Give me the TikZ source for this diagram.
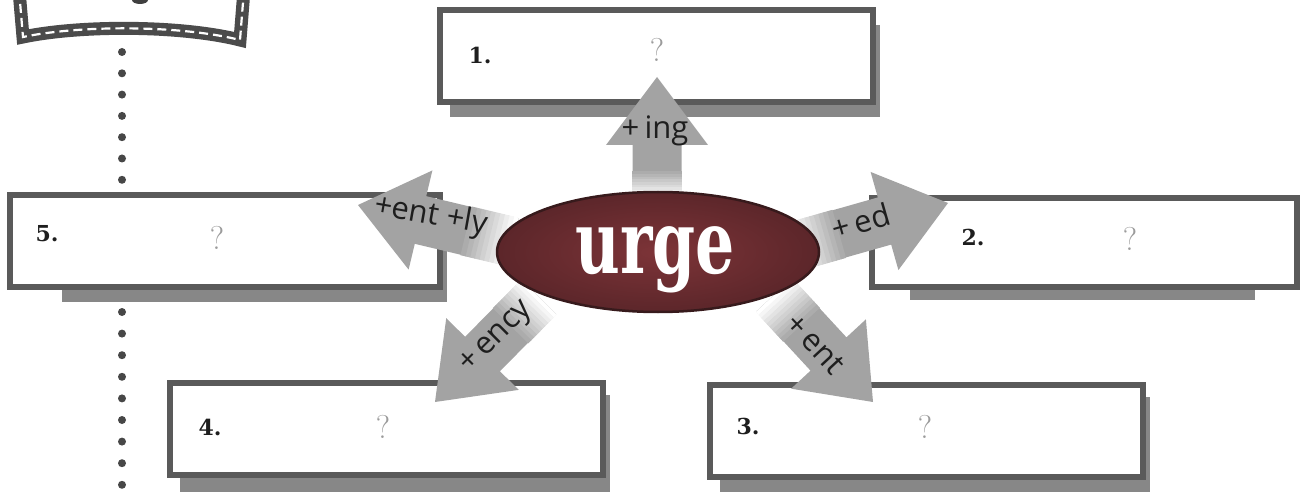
\documentclass[tikz,border=0pt]{standalone}
\usepackage{fontspec}
\newfontfamily\lblfont{Open Sans}
\newfontfamily\numfont{DejaVu Serif}
\usetikzlibrary{calc,shapes.geometric}
\definecolor{arrowgray}{RGB}{163,163,163}
\definecolor{framegray}{RGB}{90,90,90}
\definecolor{shadowgray}{RGB}{135,135,135}
\definecolor{ovalfill}{RGB}{125,52,56}
\definecolor{ovalouter}{RGB}{92,38,42}
\definecolor{ovaledge}{RGB}{55,26,28}
\definecolor{qgray}{RGB}{155,155,155}
\definecolor{inkgray}{RGB}{30,30,30}
\definecolor{badgegray}{RGB}{75,75,75}
\tikzset{
  boxframe/.style={draw=framegray, line width=5.5pt, fill=white, inner sep=0pt},
  boxshadow/.style={fill=shadowgray},
  numlabel/.style={font=\numfont\bfseries\fontsize{22}{22}\selectfont, text=inkgray, inner sep=0pt},
  qlabel/.style={font=\fontsize{33}{33}\selectfont, text=qgray, inner sep=0pt},
  arrowlabel/.style={font=\lblfont\fontsize{31}{31}\selectfont, text=inkgray, inner sep=0pt},
  dotmark/.style={fill=black!72},
}
\newcommand\blockarrow[3]{%
  \fill[arrowgray] ($(#1)!24.5pt!90:(#3)$) -- ($(#2)!24.5pt!90:(#3)$) -- ($(#2)!51pt!90:(#3)$) -- (#3)
     -- ($(#2)!51pt!-90:(#3)$) -- ($(#2)!24.5pt!-90:(#3)$) -- ($(#1)!24.5pt!-90:(#3)$) -- cycle;
  \foreach \k in {0,...,9}{%
    \pgfmathsetmacro\fa{\k*0.05}%
    \pgfmathsetmacro\fb{\k*0.05+0.055}%
    \pgfmathtruncatemacro\pc{\k*10}%
    \coordinate (fa) at ($(#1)!\fa!(#2)$);
    \coordinate (fb) at ($(#1)!\fb!(#2)$);
    \fill[arrowgray!\pc!white] ($(fa)!25pt!90:(#3)$) -- ($(fb)!25pt!90:(#3)$) -- ($(fb)!25pt!-90:(#3)$) -- ($(fa)!25pt!-90:(#3)$) -- cycle;
  }}
\begin{document}
\begin{tikzpicture}[x=1pt,y=-1pt]
\useasboundingbox (0,0) rectangle (1307,497);
% badge
\draw[badgegray, line width=13pt] (19,-10) -- (23,37) .. controls (80,25) and (180,25) .. (240,40) -- (244,-10);
\draw[white, line width=2.2pt, dash pattern=on 9pt off 5pt] (19,-10) -- (23,37) .. controls (80,25) and (180,25) .. (240,40) -- (244,-10);
\fill[black!75] (140,0) ellipse (8 and 4);
% dots
\foreach \y in {52,73.3,...,180} \fill[dotmark] (122,\y) circle (4);
\foreach \y in {312,333.6,...,486} \fill[dotmark] (122,\y) circle (4);
% shadows
\fill[boxshadow] (450,25) rectangle (880,117);
\fill[boxshadow] (62,210) rectangle (447,302);
\fill[boxshadow] (910,215) rectangle (1255,300);
\fill[boxshadow] (180,395) rectangle (610,492);
\fill[boxshadow] (720,397) rectangle (1150,492);
% boxes
\node[boxframe, minimum width=433pt, minimum height=92pt] (b1) at (656.5,56) {};
\node[boxframe, minimum width=430pt, minimum height=92pt] (b5) at (225,241) {};
\node[boxframe, minimum width=425pt, minimum height=89pt] (b2) at (1084.5,242.5) {};
\node[boxframe, minimum width=433pt, minimum height=92pt] (b4) at (386.5,429) {};
\node[boxframe, minimum width=433pt, minimum height=92pt] (b3) at (926.5,431) {};
% arrow geometry
\coordinate (tU) at (657,198); \coordinate (bU) at (657,145); \coordinate (pU) at (657,77);
\coordinate (tL) at (513,242); \coordinate (bL) at (420.5,220); \coordinate (pL) at (358,205);
\coordinate (tR) at (793,247); \coordinate (bR) at (884.5,221); \coordinate (pR) at (948,203);
\coordinate (tDL) at (539,297); \coordinate (bDL) at (482.5,354); \coordinate (pDL) at (435,402);
\coordinate (tDR) at (774,295); \coordinate (bDR) at (828.5,354); \coordinate (pDR) at (873,402);
\blockarrow{tU}{bU}{pU}
\blockarrow{tL}{bL}{pL}
\blockarrow{tR}{bR}{pR}
\blockarrow{tDL}{bDL}{pDL}
\blockarrow{tDR}{bDR}{pDR}
% central oval
\node[ellipse, draw=ovaledge, line width=2.5pt, inner color=ovalfill, outer color=ovalouter, minimum width=322pt, minimum height=120pt, inner sep=0pt] (urge) at (658,252) {};
\node[anchor=base, text=white, inner sep=0pt, font=\numfont\bfseries\fontsize{88}{88}\selectfont] (urgetext) at (655,273) {\scalebox{0.7}[1]{urge}};
% arrow labels
\node[arrowlabel] (lU) at (655,131) {+\,ing};
\node[arrowlabel, rotate=-10] (lL) at (431,216) {+ent +ly};
\node[arrowlabel, rotate=16] (lR) at (861,221) {+\,ed};
\node[arrowlabel, rotate=45] (lDL) at (497,338) {+\,ency};
\node[arrowlabel, rotate=-47] (lDR) at (815,344) {+\,ent};
% box labels
\node[numlabel] (n1) at (480,55) {1.};
\node[numlabel] (n5) at (47,234) {5.};
\node[numlabel] (n2) at (973,237) {2.};
\node[numlabel] (n4) at (210,427) {4.};
\node[numlabel] (n3) at (748,426) {3.};
\node[qlabel] (q1) at (657,50) {?};
\node[qlabel] (q5) at (217,238) {?};
\node[qlabel] (q2) at (1130,239) {?};
\node[qlabel] (q4) at (383,427) {?};
\node[qlabel] (q3) at (925,427) {?};
\end{tikzpicture}
\end{document}
